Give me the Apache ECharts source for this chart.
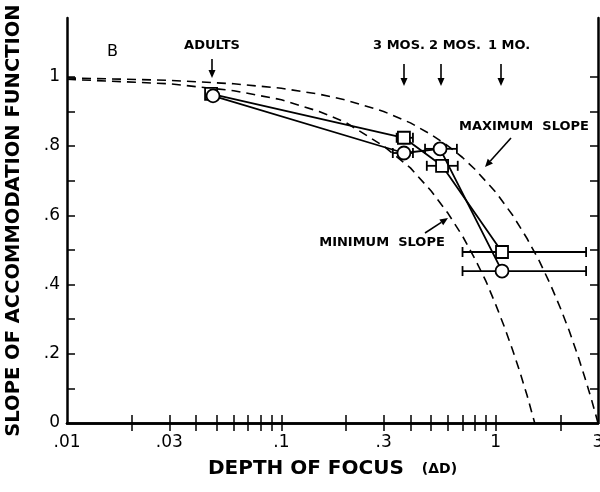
<!DOCTYPE html>
<html><head><meta charset="utf-8">
<script src="https://cdn.jsdelivr.net/npm/echarts@6/dist/echarts.min.js"></script>
<style>html,body{margin:0;padding:0;background:#fff}#c{width:600px;height:492px}</style>
</head><body><div id="c"></div>
<script>
// ---- tick marks and labels ----
const xTickValues = [0.02,0.03,0.04,0.05,0.06,0.07,0.08,0.09,0.1,0.2,0.3,0.4,0.5,0.6,0.7,0.8,0.9,1,2];
const xLabelValues = [0.01,0.03,0.1,0.3,1,3];
const xLabelTexts = ['.01','.03','.1','.3','1','3'];
const yTickValues = [0.1,0.2,0.3,0.4,0.5,0.6,0.7,0.8,0.9,1.0];
const yLabelValues = [0,0.2,0.4,0.6,0.8,1];
const yLabelTexts = ['0','.2','.4','.6','.8','1'];

// ---- data: squares ----
const squareDepth = [0.047, 0.373, 0.562, 1.07];
const squareSlope = [0.951, 0.824, 0.743, 0.494];
const squareErrLo = [null, 0.345, 0.477, 0.70];
const squareErrHi = [null, 0.411, 0.665, 2.64];
// ---- data: circles ----
const circleDepth = [0.048, 0.373, 0.550, 1.07];
const circleSlope = [0.945, 0.780, 0.792, 0.439];
const circleErrLo = [null, 0.331, 0.468, 0.70];
const circleErrHi = [null, 0.411, 0.659, 2.64];

// ---- dashed theoretical curves ----
const maxDepth = [0.01, 0.03, 0.06, 0.1, 0.15, 0.2, 0.3, 0.4, 0.5, 0.6, 0.7, 0.8, 1.0, 1.2, 1.4, 1.6, 1.8, 2.0, 2.2, 2.4, 2.6, 2.8, 3.0];
const maxSlope = [0.997, 0.99, 0.98, 0.967, 0.95, 0.933, 0.90, 0.867, 0.833, 0.80, 0.767, 0.733, 0.667, 0.60, 0.533, 0.467, 0.40, 0.333, 0.267, 0.20, 0.133, 0.067, 0.0];
const minDepth = [0.01, 0.03, 0.06, 0.1, 0.15, 0.2, 0.3, 0.4, 0.5, 0.6, 0.7, 0.8, 0.9, 1.0, 1.1, 1.2, 1.3, 1.4, 1.52];
const minSlope = [0.993, 0.98, 0.96, 0.934, 0.90, 0.868, 0.80, 0.737, 0.67, 0.605, 0.54, 0.474, 0.41, 0.342, 0.276, 0.21, 0.145, 0.08, 0.0];

const zip = (a, b) => a.map((v, i) => [v, b[i]]);
const errRows = (lo, hi, y) => lo.map((v, i) => v == null ? null : [v, hi[i], y[i]]).filter(r => r);

function nearestLabel(vals, texts, v) {
  let best = 0, bd = Infinity;
  vals.forEach((x, i) => { const d = Math.abs(Math.log(x) - Math.log(Math.max(v, 1e-9))); if (d < bd) { bd = d; best = i; } });
  return texts[best];
}
function nearestLin(vals, texts, v) {
  let best = 0, bd = Infinity;
  vals.forEach((x, i) => { const d = Math.abs(x - v); if (d < bd) { bd = d; best = i; } });
  return texts[best];
}

const labelFont = { fontFamily: 'DejaVu Sans', fontSize: 17, color: '#000' };
const axisLineStyle = { color: '#000', width: 2.5 };

function errorBarSeries(rows) {
  return {
    type: 'custom',
    z: 2,
    data: rows,
    encode: { x: [0, 1], y: 2 },
    renderItem: function (params, api) {
      const p0 = api.coord([api.value(0), api.value(2)]);
      const p1 = api.coord([api.value(1), api.value(2)]);
      const h = 5;
      const st = { stroke: '#000', lineWidth: 1.8 };
      return {
        type: 'group',
        children: [
          { type: 'line', shape: { x1: p0[0], y1: p0[1], x2: p1[0], y2: p1[1] }, style: st },
          { type: 'line', shape: { x1: p0[0], y1: p0[1] - h, x2: p0[0], y2: p0[1] + h }, style: st },
          { type: 'line', shape: { x1: p1[0], y1: p1[1] - h, x2: p1[0], y2: p1[1] + h }, style: st }
        ]
      };
    }
  };
}

function arrow(x1, y1, x2, y2) {
  const ang = Math.atan2(y2 - y1, x2 - x1);
  const L = 8, W = 3.5;
  const bx = x2 - L * Math.cos(ang), by = y2 - L * Math.sin(ang);
  const px = -Math.sin(ang) * W, py = Math.cos(ang) * W;
  return [
    { type: 'line', shape: { x1, y1, x2: bx, y2: by }, style: { stroke: '#000', lineWidth: 1.6 } },
    { type: 'polygon', shape: { points: [[x2, y2], [bx + px, by + py], [bx - px, by - py]] }, style: { fill: '#000' } }
  ];
}

const annFont = 'bold 13px "DejaVu Sans"';
const graphics = [
  { type: 'text', left: 107, top: 44, style: { text: 'B', font: '16px "DejaVu Sans"', fill: '#000' } },
  { type: 'text', x: 212, y: 46, style: { text: 'ADULTS', font: annFont, fill: '#000', align: 'center', verticalAlign: 'middle' } },
  { type: 'text', x: 399, y: 46, style: { text: '3 MOS.', font: annFont, fill: '#000', align: 'center', verticalAlign: 'middle' } },
  { type: 'text', x: 455, y: 46, style: { text: '2 MOS.', font: annFont, fill: '#000', align: 'center', verticalAlign: 'middle' } },
  { type: 'text', x: 509, y: 46, style: { text: '1 MO.', font: annFont, fill: '#000', align: 'center', verticalAlign: 'middle' } },
  { type: 'text', x: 524, y: 127, style: { text: 'MAXIMUM  SLOPE', font: annFont, fill: '#000', align: 'center', verticalAlign: 'middle' } },
  { type: 'text', x: 382, y: 243, style: { text: 'MINIMUM  SLOPE', font: annFont, fill: '#000', align: 'center', verticalAlign: 'middle' } }
].concat(
  arrow(212, 59, 212, 78),
  arrow(404, 64, 404, 86),
  arrow(441, 64, 441, 86),
  arrow(501, 64, 501, 86),
  arrow(511, 138, 485, 167),
  arrow(425, 233, 448, 218)
);

const option = {
  animation: false,
  backgroundColor: '#fff',
  grid: { left: 67, right: 2, top: 18, bottom: 69, containLabel: false, outerBoundsMode: 'none' },
  xAxis: [
    {
      type: 'log', logBase: 10, min: 0.01, max: 3,
      name: 'DEPTH OF FOCUS  {s|(ΔD)}',
      nameLocation: 'middle', nameGap: 36,
      nameTextStyle: { fontFamily: 'DejaVu Sans', fontWeight: 'bold', fontSize: 20, color: '#000',
        rich: { s: { fontFamily: 'DejaVu Sans', fontSize: 14, color: '#000', padding: [0, 0, 0, 4] } } },
      axisLine: { show: true, lineStyle: axisLineStyle },
      axisTick: { show: true, inside: true, length: 8, lineStyle: { color: '#000', width: 1.5 }, customValues: xTickValues },
      axisLabel: { show: true, margin: 11, ...labelFont, customValues: xLabelValues,
        formatter: v => nearestLabel(xLabelValues, xLabelTexts, v) },
      splitLine: { show: false }, minorTick: { show: false }
    },
    {
      type: 'log', logBase: 10, min: 0.01, max: 3, position: 'top',
      axisLine: { show: true, lineStyle: axisLineStyle },
      axisTick: { show: true, inside: true, length: 8, lineStyle: { color: '#000', width: 1.5 }, customValues: xTickValues },
      axisLabel: { show: false }, splitLine: { show: false }
    }
  ],
  yAxis: [
    {
      type: 'value', min: 0, max: 1.17,
      name: 'SLOPE OF ACCOMMODATION FUNCTION',
      nameLocation: 'middle', nameGap: 43, nameRotate: 90,
      nameTextStyle: { fontFamily: 'DejaVu Sans', fontWeight: 'bold', fontSize: 19.5, color: '#000' },
      axisLine: { show: true, lineStyle: axisLineStyle },
      axisTick: { show: true, inside: true, length: 8, lineStyle: { color: '#000', width: 1.5 }, customValues: yTickValues },
      axisLabel: { show: true, margin: 7, ...labelFont, customValues: yLabelValues,
        formatter: v => nearestLin(yLabelValues, yLabelTexts, v) },
      splitLine: { show: false }
    },
    {
      type: 'value', min: 0, max: 1.17, position: 'right',
      axisLine: { show: true, lineStyle: axisLineStyle },
      axisTick: { show: true, inside: true, length: 8, lineStyle: { color: '#000', width: 1.5 }, customValues: yTickValues },
      axisLabel: { show: false }, splitLine: { show: false }
    }
  ],
  series: [
    { type: 'line', name: 'Maximum slope', data: zip(maxDepth, maxSlope), showSymbol: false, symbol: 'none',
      smooth: false, z: 1,
      lineStyle: { color: '#000', width: 1.6, type: [9, 6] } },
    { type: 'line', name: 'Minimum slope', data: zip(minDepth, minSlope), showSymbol: false, symbol: 'none',
      smooth: false, z: 1,
      lineStyle: { color: '#000', width: 1.6, type: [9, 6] } },
    errorBarSeries(errRows(squareErrLo, squareErrHi, squareSlope)),
    errorBarSeries(errRows(circleErrLo, circleErrHi, circleSlope)),
    { type: 'line', name: 'Squares', data: zip(squareDepth, squareSlope), z: 3,
      symbol: 'rect', symbolSize: 12, showAllSymbol: true,
      lineStyle: { color: '#000', width: 1.8 },
      itemStyle: { color: '#fff', borderColor: '#000', borderWidth: 1.8 } },
    { type: 'line', name: 'Circles', data: zip(circleDepth, circleSlope), z: 4,
      symbol: 'circle', symbolSize: 13, showAllSymbol: true,
      lineStyle: { color: '#000', width: 1.8 },
      itemStyle: { color: '#fff', borderColor: '#000', borderWidth: 1.8 } }
  ],
  graphic: graphics
};

const chart = echarts.init(document.getElementById('c'));
chart.setOption(option);
</script></body></html>
